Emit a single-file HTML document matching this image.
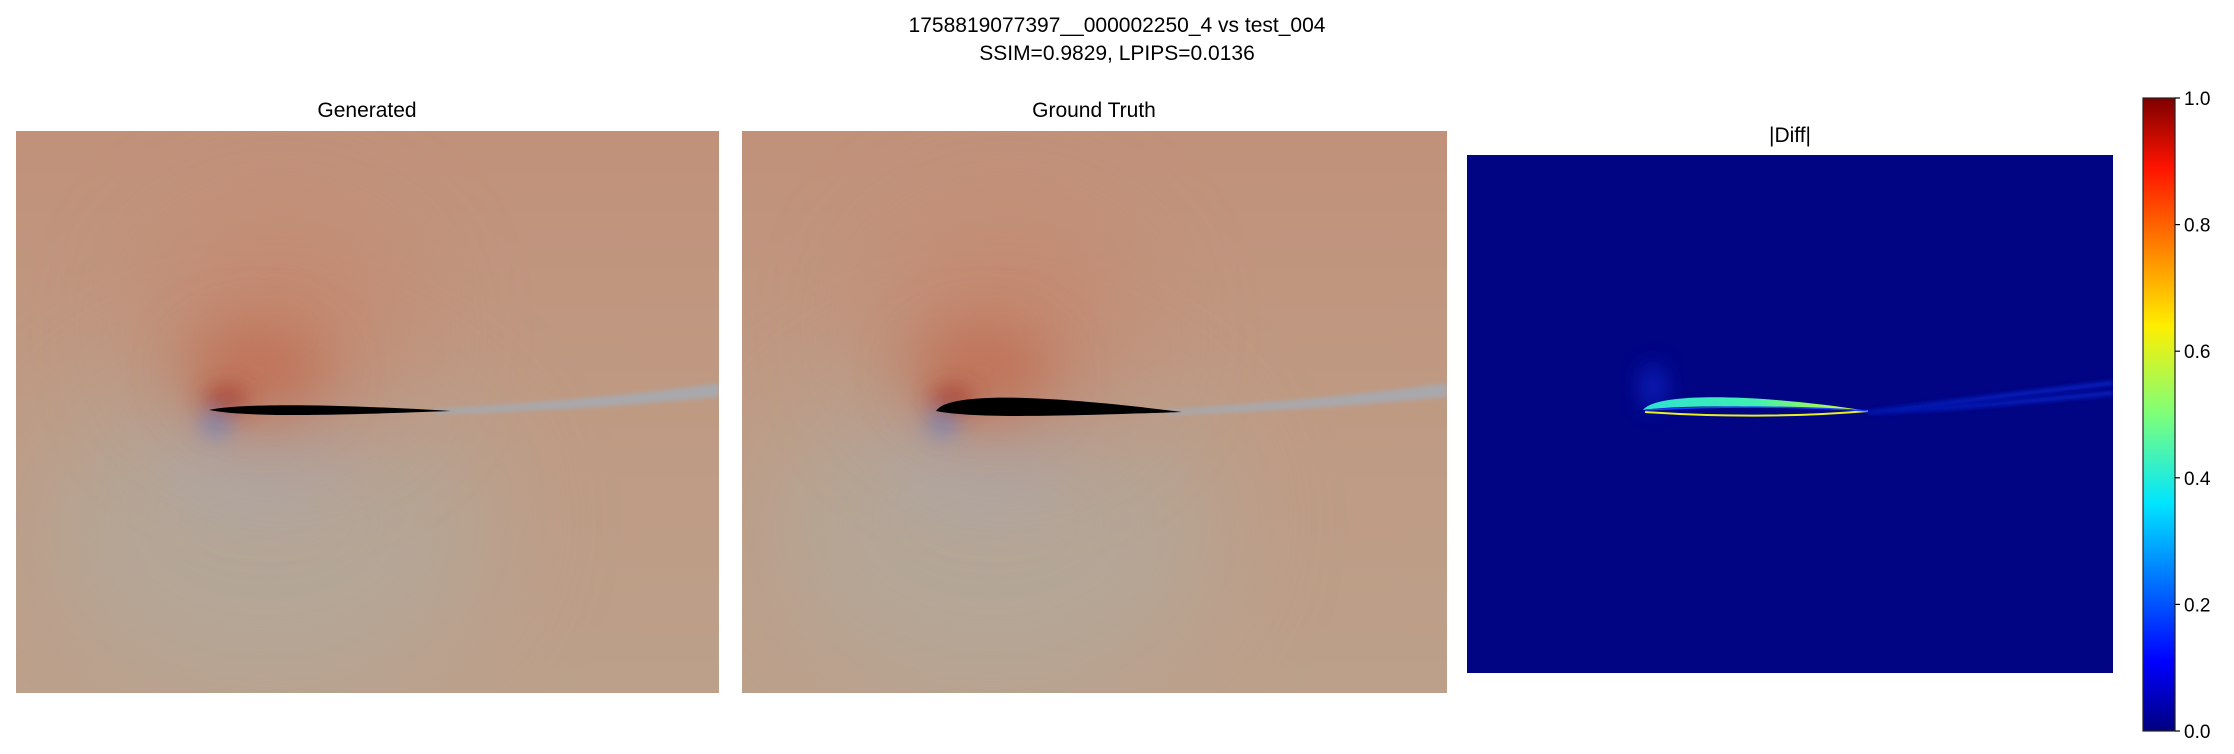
<!DOCTYPE html>
<html><head><meta charset="utf-8"><style>
html,body{margin:0;padding:0;background:#fff;width:2234px;height:754px;overflow:hidden;font-family:"Liberation Sans","DejaVu Sans",sans-serif}
</style></head><body>
<svg width="2234" height="754" viewBox="0 0 2234 754" xmlns="http://www.w3.org/2000/svg">
<defs>
<filter id="b60" x="-1" y="-1" width="3" height="3"><feGaussianBlur stdDeviation="60"/></filter>
<filter id="b30" x="-1" y="-1" width="3" height="3"><feGaussianBlur stdDeviation="30"/></filter>
<filter id="b12" x="-1" y="-1" width="3" height="3"><feGaussianBlur stdDeviation="12"/></filter>
<filter id="b4" x="-1" y="-1" width="3" height="3"><feGaussianBlur stdDeviation="4"/></filter>
<filter id="b2" x="-1" y="-1" width="3" height="3"><feGaussianBlur stdDeviation="2"/></filter>
<linearGradient id="jet" x1="0" y1="1" x2="0" y2="0">
<stop offset="0" stop-color="#00007f"/><stop offset="0.11" stop-color="#0000ff"/>
<stop offset="0.36" stop-color="#00e5ff"/><stop offset="0.5" stop-color="#7dff7a"/>
<stop offset="0.64" stop-color="#ffee00"/><stop offset="0.89" stop-color="#ff1300"/>
<stop offset="1" stop-color="#7f0000"/>
</linearGradient>
<linearGradient id="dglow" x1="0" y1="0" x2="1" y2="0">
<stop offset="0" stop-color="#30e0d0"/><stop offset="0.5" stop-color="#40f0b0"/><stop offset="1" stop-color="#e0ff20"/>
</linearGradient>
<linearGradient id="bg" x1="0" y1="0" x2="0" y2="1">
<stop offset="0" stop-color="#c1917a"/><stop offset="0.5" stop-color="#bf9a83"/><stop offset="1" stop-color="#bca08a"/>
</linearGradient>
<g id="field">
<ellipse cx="250" cy="390" rx="230" ry="170" fill="#b0aa9f" opacity="0.7" filter="url(#b60)"/>
<ellipse cx="240" cy="320" rx="90" ry="60" fill="#a8acb0" opacity="0.7" filter="url(#b30)"/>
<ellipse cx="265" cy="200" rx="130" ry="110" fill="#c6846a" opacity="0.8" filter="url(#b60)"/>
<ellipse cx="240" cy="240" rx="70" ry="45" fill="#bf6a50" opacity="0.8" filter="url(#b30)"/>
<ellipse cx="210" cy="268" rx="22" ry="12" fill="#a8382a" opacity="0.9" filter="url(#b12)"/>
<ellipse cx="200" cy="292" rx="14" ry="12" fill="#5a7fd0" opacity="0.8" filter="url(#b12)"/>
</g>
</defs>
<text x="1117" y="32" font-size="21" text-anchor="middle" fill="#000">1758819077397__000002250_4 vs test_004</text>
<text x="1117" y="60" font-size="21" text-anchor="middle" fill="#000">SSIM=0.9829, LPIPS=0.0136</text>

<text x="367" y="117" font-size="21" text-anchor="middle">Generated</text>
<g>
<svg x="16" y="131" width="703" height="562" viewBox="0 0 703 562">
<rect width="703" height="562" fill="url(#bg)"/>
<use href="#field"/>
<path d="M420,278 C520,272 620,264 703,252 L703,266 C620,274 520,281 420,283 Z" fill="#a9a8ac" filter="url(#b2)"/>
<path d="M193,279 C220,273 300,272 435,280 C300,285 230,286 193,279 Z" fill="#000"/>
</svg></g>

<text x="1094" y="117" font-size="21" text-anchor="middle">Ground Truth</text>
<g>
<svg x="742" y="131" width="705" height="562" viewBox="0 0 705 562">
<rect width="705" height="562" fill="url(#bg)"/>
<use href="#field"/>
<path d="M425,279 C520,272 620,264 705,252 L705,266 C620,274 520,281 425,284 Z" fill="#a9a8ac" filter="url(#b2)"/>
<path d="M194,280 C205,262 290,262 440,281 C300,286 230,287 194,280 Z" fill="#000"/>
</svg></g>

<text x="1790" y="142" font-size="21" text-anchor="middle">|Diff|</text>
<g>
<svg x="1467" y="155" width="646" height="518" viewBox="0 0 646 518">
<rect width="646" height="518" fill="#010483"/>
<ellipse cx="186" cy="232" rx="10" ry="22" fill="#1a40ff" opacity="0.6" filter="url(#b12)"/>
<path d="M400,256 C480,246 560,236 646,226 L646,230 C560,240 480,250 400,258 Z" fill="#0c30e8" opacity="0.7" filter="url(#b2)"/>
<path d="M400,258 C480,252 560,244 646,236 L646,240 C560,248 480,256 400,259 Z" fill="#0c30e8" opacity="0.7" filter="url(#b2)"/>
<path d="M176,255 C190,236 300,240 401,256 C300,250 210,250 176,255 Z" fill="url(#dglow)"/>
<path d="M178,257 C250,262 330,262 401,256" stroke="#e8f020" stroke-width="2" fill="none"/>
<path d="M178,255 C250,251 330,251 401,256" stroke="#1a40ff" stroke-width="1.5" fill="none"/>
</svg></g>

<g>
<rect x="2143" y="98" width="32" height="633" fill="url(#jet)" stroke="#222" stroke-width="1.2"/>
<g id="ticks"></g>
</g>
</svg>
<script>
const tickValues = [0.0, 0.2, 0.4, 0.6, 0.8, 1.0];
const tickLabels = ["0.0","0.2","0.4","0.6","0.8","1.0"];
const cbTop = 98, cbBot = 731, cbX = 2175;
function cy(v){ return cbBot - v*(cbBot-cbTop); }
const g = document.getElementById('ticks');
const ns = 'http://www.w3.org/2000/svg';
tickValues.forEach((v,i)=>{
  const l = document.createElementNS(ns,'line');
  l.setAttribute('x1',cbX); l.setAttribute('x2',cbX+5);
  l.setAttribute('y1',cy(v)); l.setAttribute('y2',cy(v));
  l.setAttribute('stroke','#000'); l.setAttribute('stroke-width','1.2');
  
  
  g.appendChild(l);
  const t = document.createElementNS(ns,'text');
  t.setAttribute('x',cbX+9); t.setAttribute('y',cy(v)+7);
  t.setAttribute('font-size','19');
  t.textContent = tickLabels[i];
  
  
  g.appendChild(t);
});
</script>
</body></html>
